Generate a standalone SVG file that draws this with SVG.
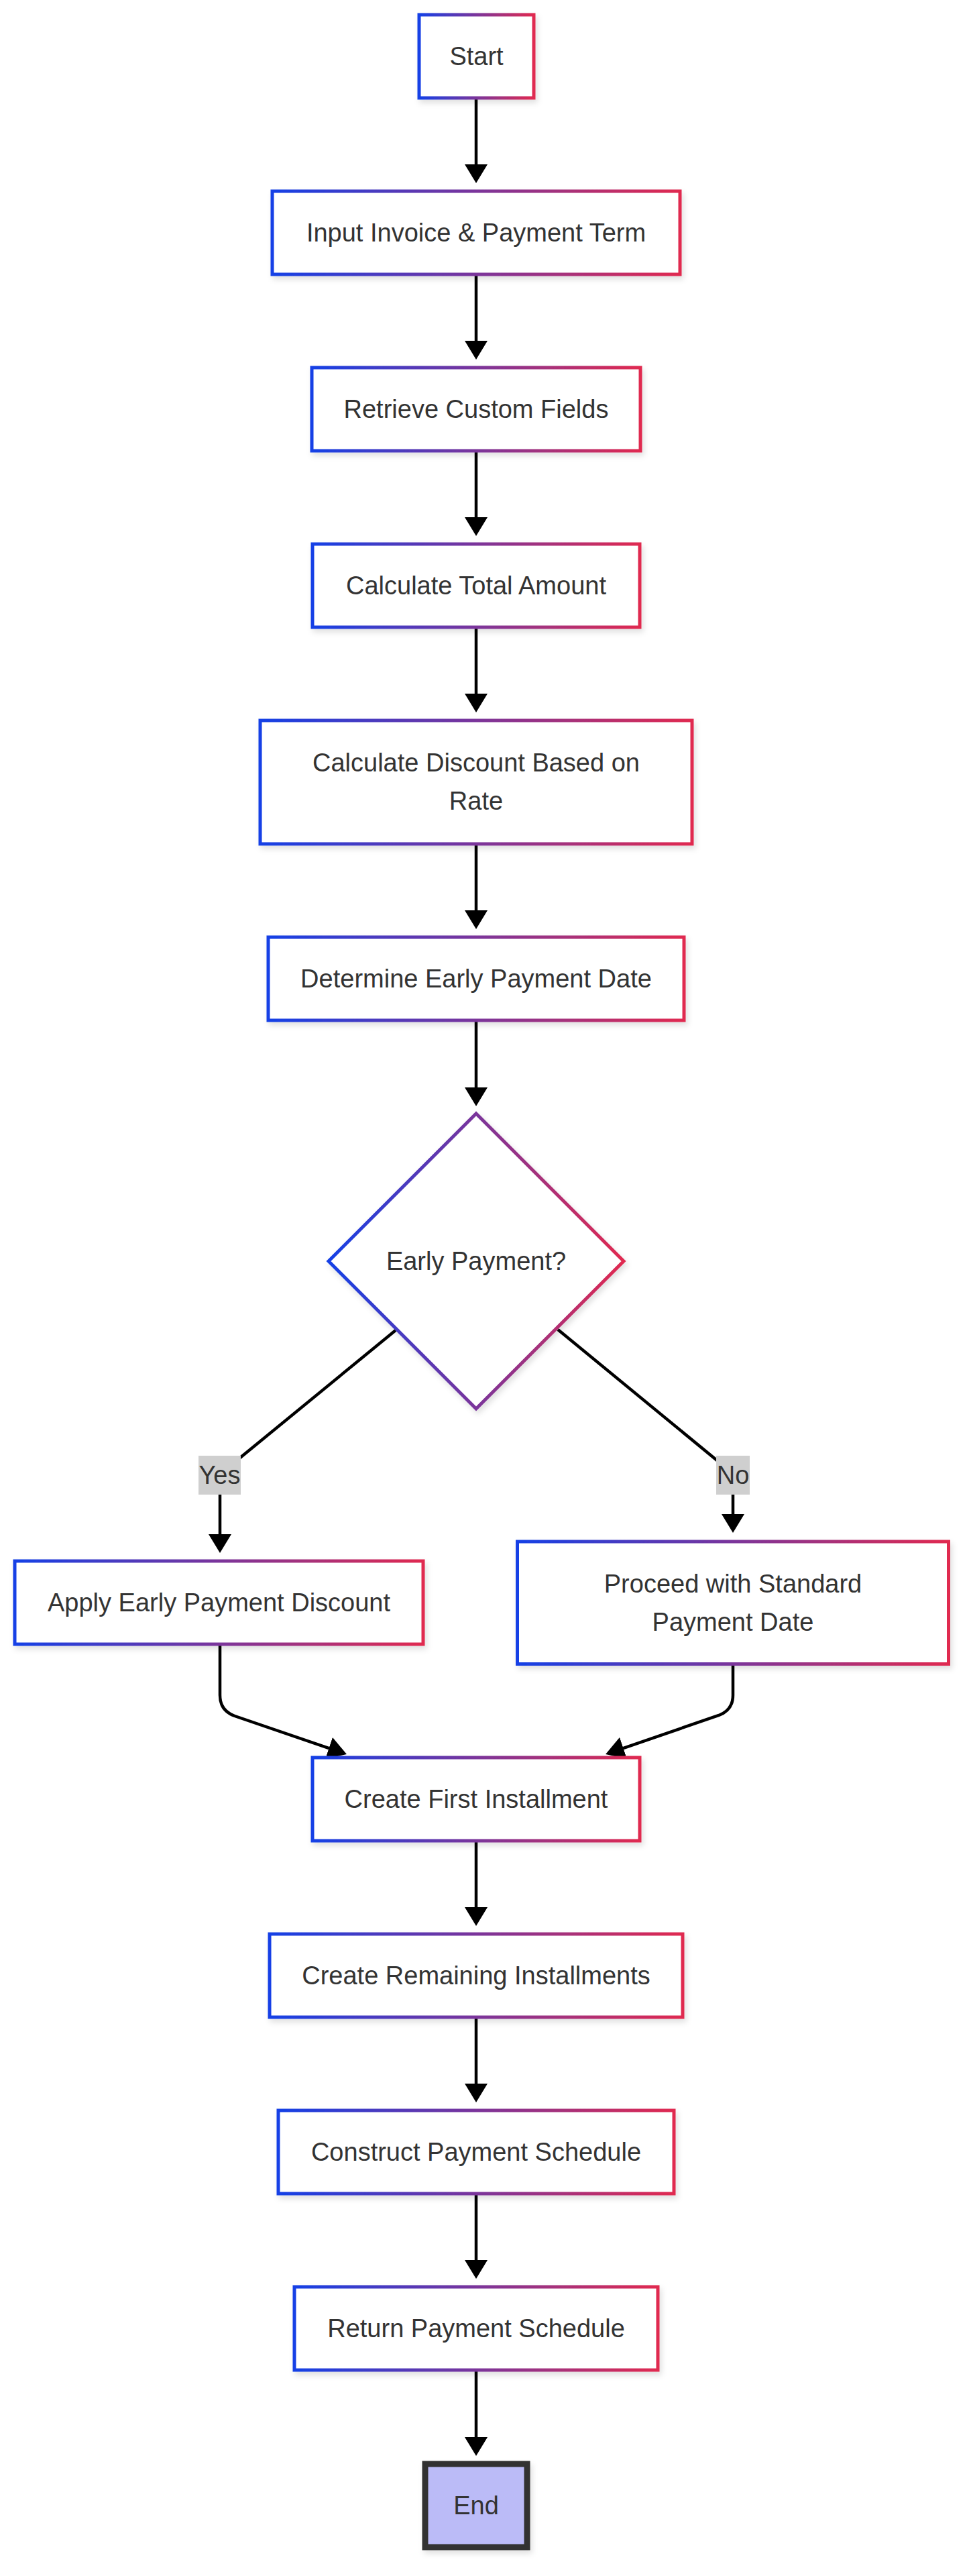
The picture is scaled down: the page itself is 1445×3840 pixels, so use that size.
<svg xmlns="http://www.w3.org/2000/svg" width="1445" height="3840" viewBox="0 0 1445 3840">
<defs>
<linearGradient id="g" x1="0" y1="0" x2="1" y2="0">
<stop offset="0" stop-color="#1540e6"/>
<stop offset="1" stop-color="#e02a50"/>
</linearGradient>
<filter id="sh" x="-10%" y="-20%" width="120%" height="150%">
<feDropShadow dx="3" dy="5" stdDeviation="4" flood-color="#000" flood-opacity="0.12"/>
</filter>
<marker id="ah" markerUnits="userSpaceOnUse" viewBox="0 0 28 34" markerWidth="28" markerHeight="34" refX="18" refY="17" orient="auto">
<path d="M0,0 L28,17 L0,34 z" fill="#000"/>
</marker>
<style>
.n{fill:#fff;stroke:url(#g);stroke-width:5;filter:url(#sh)}
.t{font-family:"Liberation Sans",Arial,Helvetica,sans-serif;font-size:38px;fill:#333;text-anchor:middle}
.e{fill:none;stroke:#000;stroke-width:4.5;marker-end:url(#ah)}
.lb{fill:#cfcfcf}
</style>
</defs>
<rect width="1445" height="3840" fill="#fff"/>
<g id="connectors">
<path class="e" d="M710,146 L710,263"/>
<path class="e" d="M710,409 L710,526"/>
<path class="e" d="M710,672 L710,789"/>
<path class="e" d="M710,935 L710,1052"/>
<path class="e" d="M710,1258 L710,1375"/>
<path class="e" d="M710,1521 L710,1639"/>
<path class="e" d="M590,1983 L352,2178 Q328,2198 328,2222 L328,2305"/>
<path class="e" d="M832,1982 L1068,2176 Q1093,2196 1093,2222 L1093,2275"/>
<path class="e" d="M328,2452 L328,2527 Q328,2550 350,2558 L507.5,2611.8"/>
<path class="e" d="M1093,2481 L1093,2527 Q1093,2549 1072,2557 L912.5,2611.8"/>
<path class="e" d="M710,2744 L710,2861"/>
<path class="e" d="M710,3007 L710,3124"/>
<path class="e" d="M710,3270 L710,3387"/>
<path class="e" d="M710,3533 L710,3651"/>
<g id="label-yes"><rect class="lb" x="296" y="2170" width="63" height="58"/><text class="t" x="327.5" y="2212">Yes</text></g>
<g id="label-no"><rect class="lb" x="1068" y="2170" width="50" height="58"/><text class="t" x="1093" y="2212">No</text></g>
</g>
<g id="start"><rect class="n" x="625" y="22" width="171" height="124"/><text class="t" x="710.5" y="97">Start</text></g>
<g id="input"><rect class="n" x="406" y="285" width="608" height="124"/><text class="t" x="710" y="360">Input Invoice &amp; Payment Term</text></g>
<g id="retrieve"><rect class="n" x="465" y="548" width="490" height="124"/><text class="t" x="710" y="623">Retrieve Custom Fields</text></g>
<g id="calctotal"><rect class="n" x="466" y="811" width="488" height="124"/><text class="t" x="710" y="886">Calculate Total Amount</text></g>
<g id="calcdiscount"><rect class="n" x="388" y="1074" width="644" height="184"/><text class="t" x="710" y="1150">Calculate Discount Based on</text><text class="t" x="710" y="1207">Rate</text></g>
<g id="determine"><rect class="n" x="400" y="1397" width="620" height="124"/><text class="t" x="710" y="1472">Determine Early Payment Date</text></g>
<g id="decision"><polygon class="n" points="710,1660 930,1880 710,2100 490,1880"/><text class="t" x="710" y="1893">Early Payment?</text></g>
<g id="apply"><rect class="n" x="22" y="2327" width="609" height="124"/><text class="t" x="326.5" y="2402">Apply Early Payment Discount</text></g>
<g id="proceed"><rect class="n" x="771.5" y="2298" width="643" height="182.5"/><text class="t" x="1093" y="2374">Proceed with Standard</text><text class="t" x="1093" y="2431">Payment Date</text></g>
<g id="createfirst"><rect class="n" x="466" y="2620" width="488" height="124"/><text class="t" x="710" y="2695">Create First Installment</text></g>
<g id="createremaining"><rect class="n" x="402" y="2883" width="616" height="124"/><text class="t" x="710" y="2958">Create Remaining Installments</text></g>
<g id="construct"><rect class="n" x="415" y="3146" width="590" height="124"/><text class="t" x="710" y="3221">Construct Payment Schedule</text></g>
<g id="return"><rect class="n" x="439" y="3409" width="542" height="124"/><text class="t" x="710" y="3484">Return Payment Schedule</text></g>
<g id="end"><rect x="634" y="3673" width="152" height="124" fill="#bbbbf7" stroke="#333" stroke-width="9" filter="url(#sh)"/><text class="t" x="710" y="3748">End</text></g>
</svg>
